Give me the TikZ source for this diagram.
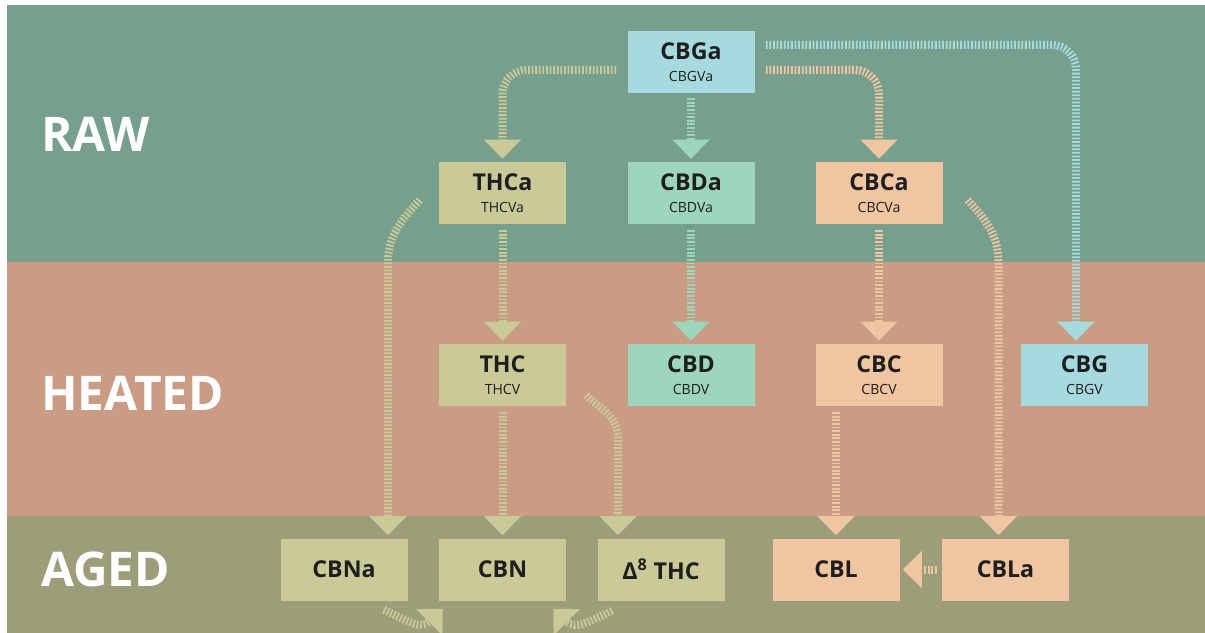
\documentclass[tikz,border=0pt]{standalone}
\usepackage{fontspec}
\setmainfont{Open Sans}
\usetikzlibrary{arrows.meta,calc}

\definecolor{rawbg}{HTML}{76A08D}
\definecolor{heatbg}{HTML}{C99C83}
\definecolor{agebg}{HTML}{9D9D7A}
\definecolor{khaki}{HTML}{CAC998}
\definecolor{mint}{HTML}{9ED5BD}
\definecolor{peach}{HTML}{EFC5A2}
\definecolor{sky}{HTML}{A7DADF}
\definecolor{ink}{HTML}{1E1E1E}

% two line label: compound and its varin
\newcommand{\cmpd}[2]{{\fontsize{16.5}{17}\selectfont\bfseries #1}\\[3.5pt]{\fontsize{10}{17}\selectfont #2}}

\begin{document}
\begin{tikzpicture}[x=0.25mm, y=-0.25mm,
    box/.style={fill=#1, text=ink, minimum width=31.75mm, minimum height=15.5mm,
        align=center, inner sep=0pt},
    onebox/.style={box=#1, font=\fontsize{16.5}{17}\selectfont\bfseries},
    rail/.style={draw=#1, line width=2mm, dash pattern=on 0.45mm off 0.45mm,
        -{Triangle[width=9mm,length=4.75mm]}, shorten >=0.75mm},
    band/.style={text=white, anchor=base west, inner sep=0pt,
        font=\fontsize{34}{34}\selectfont\bfseries}]

    \useasboundingbox (0,0) rectangle (1205,633);
    \clip (0,0) rectangle (1205,633);

    % Bands
    \fill[rawbg] (7,5) rectangle (1205,262);
    \fill[heatbg] (7,262) rectangle (1205,516);
    \fill[agebg] (7,516) rectangle (1205,633);
    \coordinate (heat) at (7,262);

    \node[band] (raw) at (41,152) {RAW};
    \node[band] (heated) at (41,410) {HEATED};
    \node[band] (aged) at (41,586) {AGED};

    % Raw row
    \node[box=sky] (cbga) at (691,62) {\cmpd{CBGa}{CBGVa}};
    \node[box=khaki] (thca) at (502.5,193) {\cmpd{THCa}{THCVa}};
    \node[box=mint] (cbda) at (691,193) {\cmpd{CBDa}{CBDVa}};
    \node[box=peach] (cbca) at (879,193) {\cmpd{CBCa}{CBCVa}};

    % Heated row
    \node[box=khaki] (thc) at (502.5,375) {\cmpd{THC}{THCV}};
    \node[box=mint] (cbd) at (691,375) {\cmpd{CBD}{CBDV}};
    \node[box=peach] (cbc) at (879,375) {\cmpd{CBC}{CBCV}};
    \node[box=sky] (cbg) at (1084.5,375) {\cmpd{CBG}{CBGV}};

    % Aged row
    \node[onebox=khaki] (cbna) at (344,569.5) {CBNa};
    \node[onebox=khaki] (cbn) at (502.5,569.5) {CBN};
    \node[onebox=khaki] (dthc) at (661,569.5) {Δ\textsuperscript{8} THC};
    \node[onebox=peach] (cbl) at (836,569.5) {CBL};
    \node[onebox=peach] (cbla) at (1005.5,569.5) {CBLa};

    % From CBGa
    \draw[rail=khaki, rounded corners=6mm] ([shift={(-11,8)}]cbga.west) -| (thca.north);
    \draw[rail=mint] ([shift={(0,5)}]cbga.south) -- (cbda.north);
    \draw[rail=peach, rounded corners=6mm] ([shift={(11,8)}]cbga.east) -| (cbca.north);
    \draw[rail=sky, rounded corners=6mm] ([shift={(11,-17)}]cbga.east) -| ([shift={(-8.5,0)}]cbg.north);

    % Raw to heated
    \draw[rail=khaki] ([shift={(0,6)}]thca.south) -- (thc.north);
    \draw[rail=mint] ([shift={(0,6)}]cbda.south) -- (cbd.north);
    \draw[rail=peach] ([shift={(0,6)}]cbca.south) -- (cbc.north);

    % Into aged
    \draw[rail=khaki] ([shift={(-19,7)}]thca.west) .. controls +(-16,18) and +(0,-28) .. ([xshift=11mm]cbna.north |- heat) -- ([xshift=11mm]cbna.north);
    \draw[rail=khaki] ([shift={(0,6)}]thc.south) -- (cbn.north);
    \draw[rail=khaki] ([shift={(20,20)}]thc.east) .. controls +(16,16) and +(0,-24) .. ([shift={(-43,-99)}]dthc.north) -- ([xshift=-10.75mm]dthc.north);
    \draw[rail=peach] ($(cbc.south -| cbl.north)+(0,6)$) -- (cbl.north);
    \draw[rail=peach] ([shift={(25,7)}]cbca.east) .. controls +(16,18) and +(0,-28) .. ([xshift=-1.75mm]cbla.north |- heat) -- ([xshift=-1.75mm]cbla.north);
    \draw[rail=peach] ([shift={(-5,0)}]cbla.west) -- (cbl.east);

    % Aged to aged, under the boxes
    \draw[rail=khaki, shorten >=0pt] ([shift={(-24,9)}]cbna.south east) .. controls +(22,10) and +(-22,22) .. ([shift={(4,8)}]cbn.south west);
    \draw[rail=khaki, shorten >=0pt] ([shift={(15,10)}]dthc.south west) .. controls +(-22,10) and +(22,22) .. ([shift={(-13,8)}]cbn.south east);

\end{tikzpicture}
\end{document}
